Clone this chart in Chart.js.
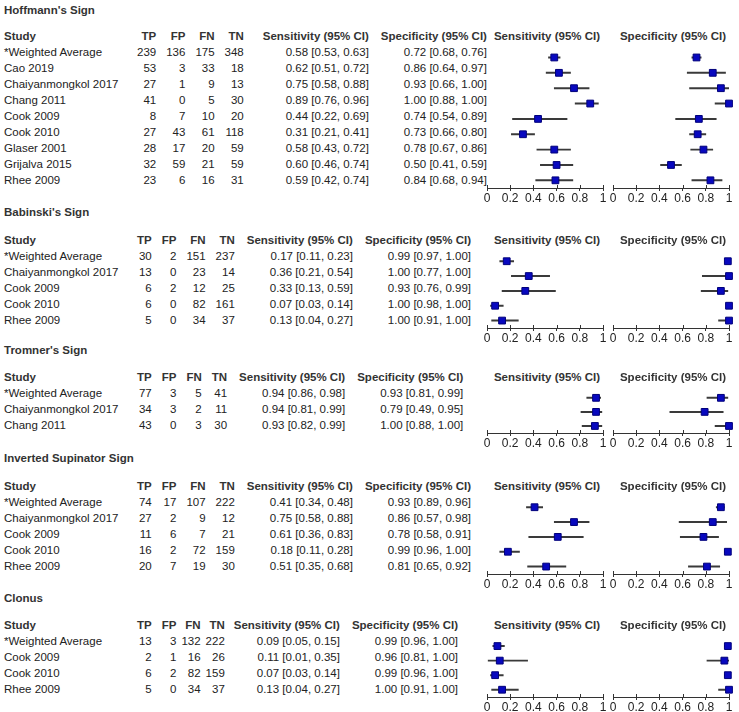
<!DOCTYPE html>
<html>
<head>
<meta charset="utf-8">
<script src="https://cdn.jsdelivr.net/npm/chart.js@4.4.0/dist/chart.umd.min.js"></script>
<style>
  body { margin: 0; background: #fff; width: 739px; height: 712px; overflow: hidden; position: relative;
         font-family: "Liberation Sans", Arial, sans-serif; font-size: 11.5px; color: #222; }
  .sec-title { position: absolute; left: 4px; font-weight: bold; color: #333; line-height: 14px; white-space: nowrap; }
  table.tbl { position: absolute; left: 4px; border-collapse: collapse; }
  table.tbl td, table.tbl th { padding: 0 0 0 10px; height: 16px; line-height: 16px; white-space: nowrap; text-align: right; }
  table.tbl th { font-weight: bold; color: #333; }
  table.tbl td:first-child, table.tbl th:first-child { padding: 0; text-align: left; min-width: 123px; }
  .panel-title { position: absolute; width: 140px; text-align: center; font-weight: bold; color: #333; line-height: 16px; white-space: nowrap; }
  canvas { position: absolute; }
</style>
</head>
<body>
<script>
// tick labels and column heads
const xTicks = [0, 0.2, 0.4, 0.6, 0.8, 1];
const headers = ['Study', 'TP', 'FP', 'FN', 'TN', 'Sensitivity (95% CI)', 'Specificity (95% CI)'];

// Hoffmann's sign
const hoffmannStudies = ['*Weighted Average', 'Cao 2019', 'Chaiyanmongkol 2017', 'Chang 2011', 'Cook 2009',
                         'Cook 2010', 'Glaser 2001', 'Grijalva 2015', 'Rhee 2009'];
const hoffmannTP = [239, 53, 27, 41, 8, 27, 28, 32, 23];
const hoffmannFP = [136, 3, 1, 0, 7, 43, 17, 59, 6];
const hoffmannFN = [175, 33, 9, 5, 10, 61, 20, 21, 16];
const hoffmannTN = [348, 18, 13, 30, 20, 118, 59, 59, 31];
const hoffmannSens = [[0.58, 0.53, 0.63], [0.62, 0.51, 0.72], [0.75, 0.58, 0.88], [0.89, 0.76, 0.96], [0.44, 0.22, 0.69],
                      [0.31, 0.21, 0.41], [0.58, 0.43, 0.72], [0.60, 0.46, 0.74], [0.59, 0.42, 0.74]];
const hoffmannSpec = [[0.72, 0.68, 0.76], [0.86, 0.64, 0.97], [0.93, 0.66, 1.00], [1.00, 0.88, 1.00], [0.74, 0.54, 0.89],
                      [0.73, 0.66, 0.80], [0.78, 0.67, 0.86], [0.50, 0.41, 0.59], [0.84, 0.68, 0.94]];

// Babinski's sign
const babinskiStudies = ['*Weighted Average', 'Chaiyanmongkol 2017', 'Cook 2009', 'Cook 2010', 'Rhee 2009'];
const babinskiTP = [30, 13, 6, 6, 5];
const babinskiFP = [2, 0, 2, 0, 0];
const babinskiFN = [151, 23, 12, 82, 34];
const babinskiTN = [237, 14, 25, 161, 37];
const babinskiSens = [[0.17, 0.11, 0.23], [0.36, 0.21, 0.54], [0.33, 0.13, 0.59], [0.07, 0.03, 0.14], [0.13, 0.04, 0.27]];
const babinskiSpec = [[0.99, 0.97, 1.00], [1.00, 0.77, 1.00], [0.93, 0.76, 0.99], [1.00, 0.98, 1.00], [1.00, 0.91, 1.00]];

// Tromner's sign
const tromnerStudies = ['*Weighted Average', 'Chaiyanmongkol 2017', 'Chang 2011'];
const tromnerTP = [77, 34, 43];
const tromnerFP = [3, 3, 0];
const tromnerFN = [5, 2, 3];
const tromnerTN = [41, 11, 30];
const tromnerSens = [[0.94, 0.86, 0.98], [0.94, 0.81, 0.99], [0.93, 0.82, 0.99]];
const tromnerSpec = [[0.93, 0.81, 0.99], [0.79, 0.49, 0.95], [1.00, 0.88, 1.00]];

// Inverted supinator sign
const supinatorStudies = ['*Weighted Average', 'Chaiyanmongkol 2017', 'Cook 2009', 'Cook 2010', 'Rhee 2009'];
const supinatorTP = [74, 27, 11, 16, 20];
const supinatorFP = [17, 2, 6, 2, 7];
const supinatorFN = [107, 9, 7, 72, 19];
const supinatorTN = [222, 12, 21, 159, 30];
const supinatorSens = [[0.41, 0.34, 0.48], [0.75, 0.58, 0.88], [0.61, 0.36, 0.83], [0.18, 0.11, 0.28], [0.51, 0.35, 0.68]];
const supinatorSpec = [[0.93, 0.89, 0.96], [0.86, 0.57, 0.98], [0.78, 0.58, 0.91], [0.99, 0.96, 1.00], [0.81, 0.65, 0.92]];

// Clonus
const clonusStudies = ['*Weighted Average', 'Cook 2009', 'Cook 2010', 'Rhee 2009'];
const clonusTP = [13, 2, 6, 5];
const clonusFP = [3, 1, 2, 0];
const clonusFN = [132, 16, 82, 34];
const clonusTN = [222, 26, 159, 37];
const clonusSens = [[0.09, 0.05, 0.15], [0.11, 0.01, 0.35], [0.07, 0.03, 0.14], [0.13, 0.04, 0.27]];
const clonusSpec = [[0.99, 0.96, 1.00], [0.96, 0.81, 1.00], [0.99, 0.96, 1.00], [1.00, 0.91, 1.00]];

// layout per block: title line, gap to the column heads, left padding of the TP..Spec columns
const sections = [
  { title: "Hoffmann's Sign", titleY: 10, gap: 26, pads: [10, 10, 10, 10, 19, 12], studies: hoffmannStudies, tp: hoffmannTP, fp: hoffmannFP, fn: hoffmannFN, tn: hoffmannTN, sens: hoffmannSens, spec: hoffmannSpec },
  { title: "Babinski's Sign", titleY: 212, gap: 28, pads: [10, 10, 10, 10, 12, 12], studies: babinskiStudies, tp: babinskiTP, fp: babinskiFP, fn: babinskiFN, tn: babinskiTN, sens: babinskiSens, spec: babinskiSpec },
  { title: "Tromner's Sign", titleY: 350, gap: 27, pads: [10, 10, 10, 10, 12, 12], studies: tromnerStudies, tp: tromnerTP, fp: tromnerFP, fn: tromnerFN, tn: tromnerTN, sens: tromnerSens, spec: tromnerSpec },
  { title: 'Inverted Supinator Sign', titleY: 458, gap: 28, pads: [10, 10, 10, 10, 12, 12], studies: supinatorStudies, tp: supinatorTP, fp: supinatorFP, fn: supinatorFN, tn: supinatorTN, sens: supinatorSens, spec: supinatorSpec },
  { title: 'Clonus', titleY: 598, gap: 27, pads: [10, 10, 5, 5, 9, 12], studies: clonusStudies, tp: clonusTP, fp: clonusFP, fn: clonusFN, tn: clonusTN, sens: clonusSens, spec: clonusSpec }
];

const ROW = 16;
const FONT = '"Liberation Sans", Arial, sans-serif';
const fmt = v => v.toFixed(2);
const ciText = t => fmt(t[0]) + ' [' + fmt(t[1]) + ', ' + fmt(t[2]) + ']';

// little tick stubs above the axis line, so the ticks cross it like in the original
const crossTicks = {
  id: 'crossTicks',
  afterDraw(chart) {
    const sc = chart.scales.x, ctx = chart.ctx, y = sc.top;
    ctx.save();
    ctx.strokeStyle = '#333';
    ctx.lineWidth = 1;
    xTicks.forEach(v => {
      const x = Math.round(sc.getPixelForValue(v)) + 0.5;
      ctx.beginPath(); ctx.moveTo(x, y - 3); ctx.lineTo(x, y); ctx.stroke();
    });
    ctx.restore();
  }
};

function forest(left, top, studies, vals) {
  const canvas = document.createElement('canvas');
  const w = 132, h = studies.length * ROW + 22;
  canvas.width = w; canvas.height = h;
  canvas.style.left = left + 'px'; canvas.style.top = top + 'px';
  canvas.style.width = w + 'px'; canvas.style.height = h + 'px';
  document.body.appendChild(canvas);

  new Chart(canvas, {
    type: 'bar',
    data: {
      labels: studies,
      datasets: [
        {
          type: 'bar',
          indexAxis: 'y',
          data: vals.map(v => [v[1], v[2]]),
          backgroundColor: '#3a3a3a',
          borderWidth: 0,
          barThickness: 1.3,
          order: 2
        },
        {
          type: 'line',
          indexAxis: 'y',
          data: vals.map(v => v[0]),
          showLine: false,
          pointStyle: 'rect',
          pointRadius: 4.8,
          backgroundColor: '#0808bf',
          borderColor: '#00007a',
          borderWidth: 1,
          clip: false,
          order: 1
        }
      ]
    },
    options: {
      indexAxis: 'y',
      responsive: false,
      animation: false,
      events: [],
      layout: { padding: { left: 8, right: 8, top: 0, bottom: 0 } },
      plugins: { legend: { display: false }, tooltip: { enabled: false }, title: { display: false } },
      scales: {
        y: { type: 'category', display: false, offset: true, grid: { display: false } },
        x: {
          type: 'linear',
          min: 0, max: 1,
          afterBuildTicks: s => { s.ticks = xTicks.map(v => ({ value: v })); },
          afterFit: s => { s.height = 22; },
          grid: { drawOnChartArea: false, drawTicks: true, tickLength: 3, color: '#333', lineWidth: 1 },
          border: { display: true, color: '#333', width: 1 },
          ticks: { padding: 0, color: '#222', font: { family: FONT, size: 12 }, maxRotation: 0, autoSkip: false,
                   callback: v => String(v) }
        }
      }
    },
    plugins: [crossTicks]
  });
}

sections.forEach(s => {
  const title = document.createElement('div');
  title.className = 'sec-title';
  title.style.top = (s.titleY - 7) + 'px';
  title.textContent = s.title;
  document.body.appendChild(title);

  const headerY = s.titleY + s.gap;
  const table = document.createElement('table');
  table.className = 'tbl';
  table.style.top = (headerY - 8) + 'px';
  const cell = (tag, txt, j) => j === 0 ? '<' + tag + '>' + txt + '</' + tag + '>'
    : '<' + tag + ' style="padding-left:' + s.pads[j - 1] + 'px">' + txt + '</' + tag + '>';
  let html = '<tr>' + headers.map((h, j) => cell('th', h, j)).join('') + '</tr>';
  s.studies.forEach((name, i) => {
    const row = [name, s.tp[i], s.fp[i], s.fn[i], s.tn[i], ciText(s.sens[i]), ciText(s.spec[i])];
    html += '<tr>' + row.map((v, j) => cell('td', v, j)).join('') + '</tr>';
  });
  table.innerHTML = html;
  document.body.appendChild(table);

  [['Sensitivity (95% CI)', s.sens, 479], ['Specificity (95% CI)', s.spec, 605]].forEach(([label, vals, left]) => {
    const pt = document.createElement('div');
    pt.className = 'panel-title';
    pt.style.left = (left + 8 + 58 - 70 + 2) + 'px';
    pt.style.top = (headerY - 8) + 'px';
    pt.textContent = label;
    document.body.appendChild(pt);
    forest(left, headerY + 8, s.studies, vals);
  });
});
</script>
</body>
</html>
